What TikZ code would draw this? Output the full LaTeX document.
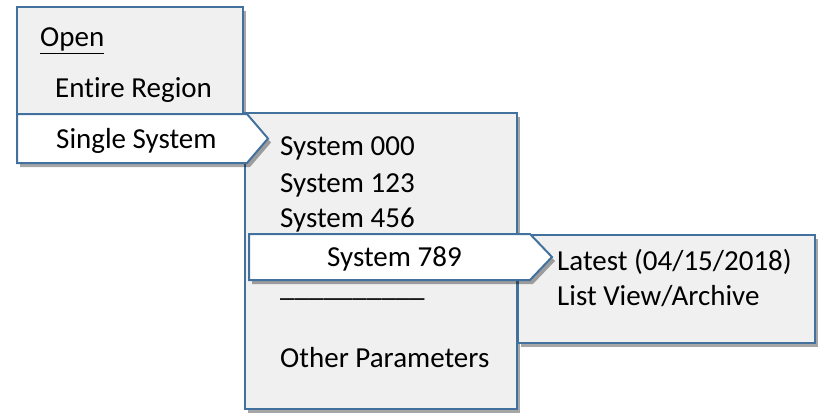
\documentclass[tikz,border=0pt]{standalone}
\usepackage{fontspec}
\setmainfont{Carlito}[Ligatures={NoCommon,NoContextual}]
\usetikzlibrary{shadows}
\definecolor{menuborder}{RGB}{65,113,156}
\definecolor{menufill}{RGB}{240,240,240}
\tikzset{
  menubox/.style={draw=menuborder, line width=2pt, fill=menufill,
    drop shadow={shadow xshift=3pt, shadow yshift=-4pt, opacity=0.35, fill=black}},
  selbox/.style={draw=menuborder, line width=2pt, fill=white, line join=miter,
    drop shadow={shadow xshift=3pt, shadow yshift=-4pt, opacity=0.35, fill=black}},
  itemtext/.style={anchor=base west, inner sep=0pt, font=\fontsize{29}{35}\selectfont}
}
\begin{document}
\begin{tikzpicture}[x=1pt, y=-1pt]
\useasboundingbox (0,0) rectangle (833,420);
% menu boxes
\path[menubox] (17,7) rectangle (243,114);
\path[menubox] (245,113) rectangle (517,409);
\path[menubox] (518,235) rectangle (815,343);
% selected items
\path[selbox] (17,114) -- (247,114) -- (268,138.5) -- (247,163) -- (17,163) -- cycle;
\path[selbox] (249,234) -- (530,234) -- (552,257) -- (530,280) -- (249,280) -- cycle;
% texts
\node[itemtext] (open) at (40,47) {\underline{Open}};
\node[itemtext] (entire) at (55,98) {Entire Region};
\node[itemtext] (single) at (56,148) {Single System};
\node[itemtext] (s000) at (280,155) {System 000};
\node[itemtext] (s123) at (280,192) {System 123};
\node[itemtext] (s456) at (280,227) {System 456};
\node[itemtext] (s789) at (327,266) {System 789};
\node[itemtext] (sep) at (280,296) {\_\_\_\_\_\_\_\_\_\_};
\node[itemtext] (other) at (280,367) {Other Parameters};
\node[itemtext] (latest) at (557,270) {Latest (04/15/2018)};
\node[itemtext] (list) at (557,305) {List View/Archive};
\end{tikzpicture}
\end{document}
